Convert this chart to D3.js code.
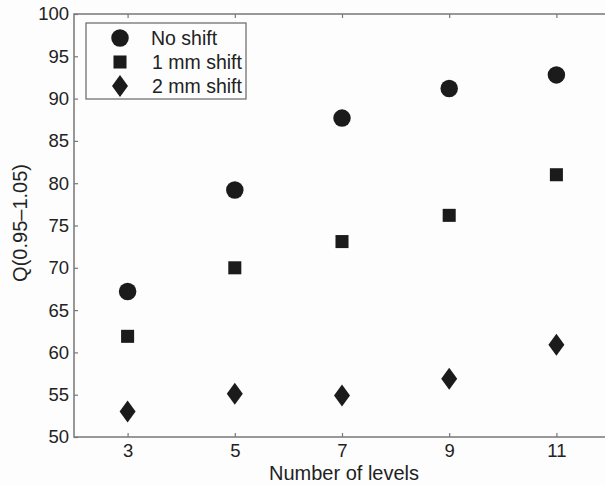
<!DOCTYPE html>
<html>
<head>
<meta charset="utf-8">
<script src="https://cdn.jsdelivr.net/npm/d3@7"></script>
<style>
  body { margin: 0; background: #fdfdfd; }
  text { font-family: "Liberation Sans", Arial, sans-serif; fill: #222; }
</style>
</head>
<body>
<div id="chart"></div>
<script>
// data
var levels = [3, 5, 7, 9, 11];
var noShift = [67.2, 79.2, 87.7, 91.2, 92.8];
var shift1mm = [61.9, 70.0, 73.1, 76.2, 81.0];
var shift2mm = [53.0, 55.1, 54.9, 56.9, 60.9];
var seriesNames = ["No shift", "1 mm shift", "2 mm shift"];
var yTicks = [50, 55, 60, 65, 70, 75, 80, 85, 90, 95, 100];

var W = 605, H = 485;
var margin = { left: 74, top: 14, right: -5, bottom: 48 };

var svg = d3.select("#chart").append("svg")
  .attr("width", W).attr("height", H);

var x = d3.scaleLinear().domain([2, 12]).range([margin.left, W - margin.right]);
var y = d3.scaleLinear().domain([50, 100]).range([H - margin.bottom, margin.top]);

var axisColor = "#777";

// frame
svg.append("rect")
  .attr("x", x(2)).attr("y", y(100))
  .attr("width", x(12) - x(2)).attr("height", y(50) - y(100))
  .attr("fill", "#fdfdfd").attr("stroke", axisColor).attr("stroke-width", 1.5);

function styleAxis(g) {
  g.select(".domain").remove();
  g.selectAll("line").attr("stroke", axisColor).attr("stroke-width", 1.2);
  g.selectAll("text").style("font-size", "18.5px").attr("fill", "#222");
}

svg.append("g").attr("transform", "translate(0," + y(50) + ")")
  .call(d3.axisBottom(x).tickValues(levels).tickSize(-4).tickPadding(7))
  .call(styleAxis);
svg.append("g").attr("transform", "translate(0," + y(100) + ")")
  .call(d3.axisTop(x).tickValues(levels).tickSize(-4).tickFormat(""))
  .call(styleAxis);
svg.append("g").attr("transform", "translate(" + x(2) + ",0)")
  .call(d3.axisLeft(y).tickValues(yTicks).tickSize(-4).tickPadding(5))
  .call(styleAxis);
svg.append("g").attr("transform", "translate(" + x(12) + ",0)")
  .call(d3.axisRight(y).tickValues(yTicks).tickSize(-4).tickFormat(""))
  .call(styleAxis);

// axis titles
svg.append("text")
  .attr("x", x(7) + 2).attr("y", 480)
  .attr("text-anchor", "middle").style("font-size", "20px")
  .text("Number of levels");
svg.append("text")
  .attr("transform", "translate(27," + y(75.3) + ") rotate(-90)")
  .attr("text-anchor", "middle").style("font-size", "20px")
  .text("Q(0.95\u20131.05)");

var markColor = "#1b1b1b";
var symbols = [
  d3.symbol().type(d3.symbolCircle).size(240),
  d3.symbol().type(d3.symbolSquare).size(170),
  function () { return "M0,-11L8,0L0,11L-8,0Z"; }
];
var seriesData = [noShift, shift1mm, shift2mm];

seriesData.forEach(function (vals, s) {
  svg.append("g").selectAll("path")
    .data(vals)
    .enter().append("path")
    .attr("transform", function (d, i) { return "translate(" + x(levels[i]) + "," + y(d) + ")"; })
    .attr("d", symbols[s])
    .attr("fill", markColor);
});

// legend
var legend = svg.append("g");
legend.append("rect")
  .attr("x", 86).attr("y", 23).attr("width", 160).attr("height", 76)
  .attr("fill", "#fdfdfd").attr("stroke", "#666").attr("stroke-width", 1.2);
seriesNames.forEach(function (name, s) {
  var ry = 38 + s * 24;
  legend.append("path")
    .attr("transform", "translate(120," + ry + ")")
    .attr("d", symbols[s])
    .attr("fill", markColor);
  legend.append("text")
    .attr("x", s === 0 ? 151 : 152).attr("y", ry + 6.5)
    .style("font-size", "19.5px")
    .text(name);
});
</script>
</body>
</html>
